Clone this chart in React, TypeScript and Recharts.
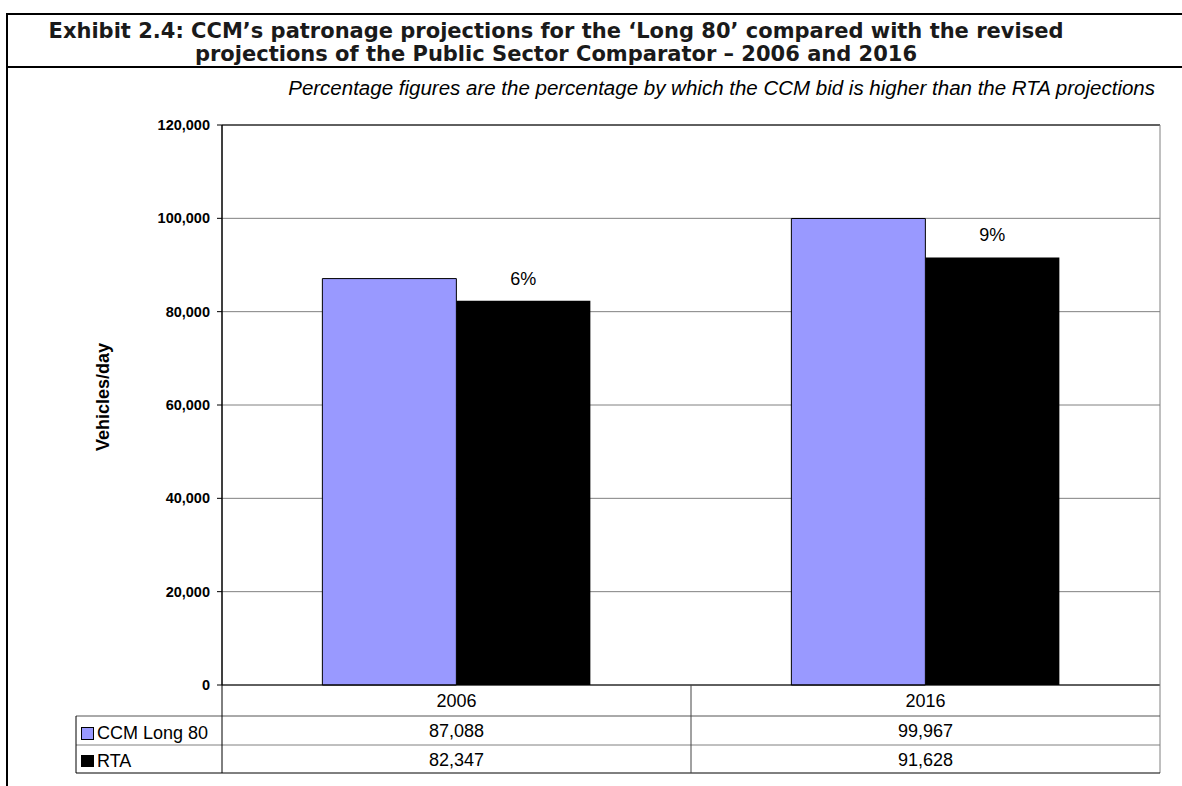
import React from 'react';
import { BarChart, Bar, XAxis, YAxis, CartesianGrid, LabelList } from 'recharts';

const years = ['2006', '2016'];
const ccmLong80 = [87088, 99967];
const rta = [82347, 91628];
const pctHigher = ['6%', '9%'];
const yTicks = [0, 20000, 40000, 60000, 80000, 100000, 120000];

const W = 1182;
const H = 786;
const PLOT_L = 222;
const PLOT_R = 1160;
const PLOT_T = 125;
const PLOT_B = 685;
const Y_AXIS_W = 80;
const ROW1 = 716;
const ROW2 = 745;
const ROW3 = 773;
const TABLE_L = 76;

const data = years.map((y, i) => ({ year: y, ccm: ccmLong80[i], rta: rta[i], pct: pctHigher[i] }));

const fmt = (v: number) => v.toLocaleString('en-US');
const arial = 'Liberation Sans, Arial, sans-serif';
const titleFont = 'DejaVu Sans, sans-serif';

const TableTick = (props: any) => {
  const { x, payload, index } = props;
  const i = index ?? years.indexOf(payload.value);
  return (
    <g fontSize={18} fontFamily={arial} fill="#000">
      <text x={x} y={701} textAnchor="middle" dominantBaseline="central">
        {payload.value}
      </text>
      <text x={x} y={731} textAnchor="middle" dominantBaseline="central">
        {fmt(ccmLong80[i])}
      </text>
      <text x={x} y={760} textAnchor="middle" dominantBaseline="central">
        {fmt(rta[i])}
      </text>
    </g>
  );
};

const PctLabel = (props: any) => {
  const { x, y, width, value } = props;
  return (
    <text x={x + width / 2} y={y - 22} textAnchor="middle" dominantBaseline="central" fontSize={18} fontFamily={arial} fill="#000">
      {value}
    </text>
  );
};

const Frame = () => {
  const bandW = (PLOT_R - PLOT_L) / years.length;
  const seps = years.slice(1).map((_, i) => PLOT_L + bandW * (i + 1));
  return (
    <svg width={W} height={H} style={{ position: 'absolute', left: 0, top: 0, pointerEvents: 'none' }}>
      {/* page box */}
      <line x1={7} y1={14} x2={W} y2={14} stroke="#000" strokeWidth={2} />
      <line x1={7} y1={67} x2={W} y2={67} stroke="#000" strokeWidth={2} />
      <line x1={7} y1={13} x2={7} y2={H} stroke="#000" strokeWidth={2} />
      <g fontSize={21} fontWeight="bold" fontFamily={titleFont} fill="#1a1a1a" textAnchor="middle">
        <text x={556} y={31} dominantBaseline="central">
          Exhibit 2.4: CCM’s patronage projections for the ‘Long 80’ compared with the revised
        </text>
        <text x={556} y={54} dominantBaseline="central">
          projections of the Public Sector Comparator – 2006 and 2016
        </text>
      </g>
      <text x={1155} y={87} textAnchor="end" dominantBaseline="central" fontSize={20.5} fontStyle="italic" fontFamily={arial} fill="#000">
        Percentage figures are the percentage by which the CCM bid is higher than the RTA projections
      </text>
      <text x={103} y={397} transform="rotate(-90 103 397)" textAnchor="middle" dominantBaseline="central" fontSize={18} fontWeight="bold" fontFamily={arial} fill="#000">
        Vehicles/day
      </text>
      {/* plot border */}
      <line x1={PLOT_L} y1={PLOT_T} x2={PLOT_R} y2={PLOT_T} stroke="#000" strokeWidth={1} />
      <line x1={PLOT_R} y1={PLOT_T} x2={PLOT_R} y2={ROW3} stroke="#808080" strokeWidth={1} />
      {/* data table */}
      <line x1={TABLE_L} y1={ROW1} x2={PLOT_R} y2={ROW1} stroke="#555" strokeWidth={1} />
      <line x1={TABLE_L} y1={ROW2} x2={PLOT_R} y2={ROW2} stroke="#808080" strokeWidth={1} />
      <line x1={TABLE_L} y1={ROW3} x2={PLOT_R} y2={ROW3} stroke="#000" strokeWidth={1} />
      <line x1={TABLE_L} y1={ROW1} x2={TABLE_L} y2={ROW3} stroke="#000" strokeWidth={1} />
      <line x1={PLOT_L} y1={PLOT_T} x2={PLOT_L} y2={ROW3} stroke="#000" strokeWidth={1} />
      {seps.map((sx) => (
        <line key={sx} x1={sx} y1={PLOT_B} x2={sx} y2={ROW3} stroke="#444" strokeWidth={1} />
      ))}
      <rect x={81.5} y={727.5} width={12} height={12} fill="#9999FF" stroke="#000" strokeWidth={1} />
      <text x={97} y={733} dominantBaseline="central" fontSize={18} fontFamily={arial} fill="#000">CCM Long 80</text>
      <rect x={81} y={755} width={13} height={12} fill="#000" />
      <text x={97} y={761} dominantBaseline="central" fontSize={18} fontFamily={arial} fill="#000">RTA</text>
    </svg>
  );
};

export default function App() {
  return (
    <div style={{ position: 'absolute', left: 0, top: 0, width: W, height: H, background: '#fff' }}>
      <BarChart
        width={W}
        height={H}
        data={data}
        margin={{ top: PLOT_T, right: W - PLOT_R, bottom: 0, left: PLOT_L - Y_AXIS_W }}
        barCategoryGap="21.4%"
        barGap={0}
      >
        <CartesianGrid horizontal vertical={false} stroke="#808080" />
        <XAxis
          dataKey="year"
          height={H - PLOT_B}
          axisLine={{ stroke: '#000' }}
          tickLine={false}
          tick={<TableTick />}
          interval={0}
        />
        <YAxis
          width={Y_AXIS_W}
          domain={[0, 120000]}
          ticks={yTicks}
          tickFormatter={fmt}
          axisLine={{ stroke: '#000' }}
          tickLine={{ stroke: '#000' }}
          tickSize={5}
          tickMargin={7}
          tick={{ fontSize: 14.5, fontWeight: 'bold', fontFamily: arial, fill: '#000' }}
        />
        <Bar dataKey="ccm" name="CCM Long 80" fill="#9999FF" stroke="#000" strokeWidth={1} isAnimationActive={false} />
        <Bar dataKey="rta" name="RTA" fill="#000" isAnimationActive={false}>
          <LabelList dataKey="pct" content={<PctLabel />} />
        </Bar>
      </BarChart>
      <Frame />
    </div>
  );
}
